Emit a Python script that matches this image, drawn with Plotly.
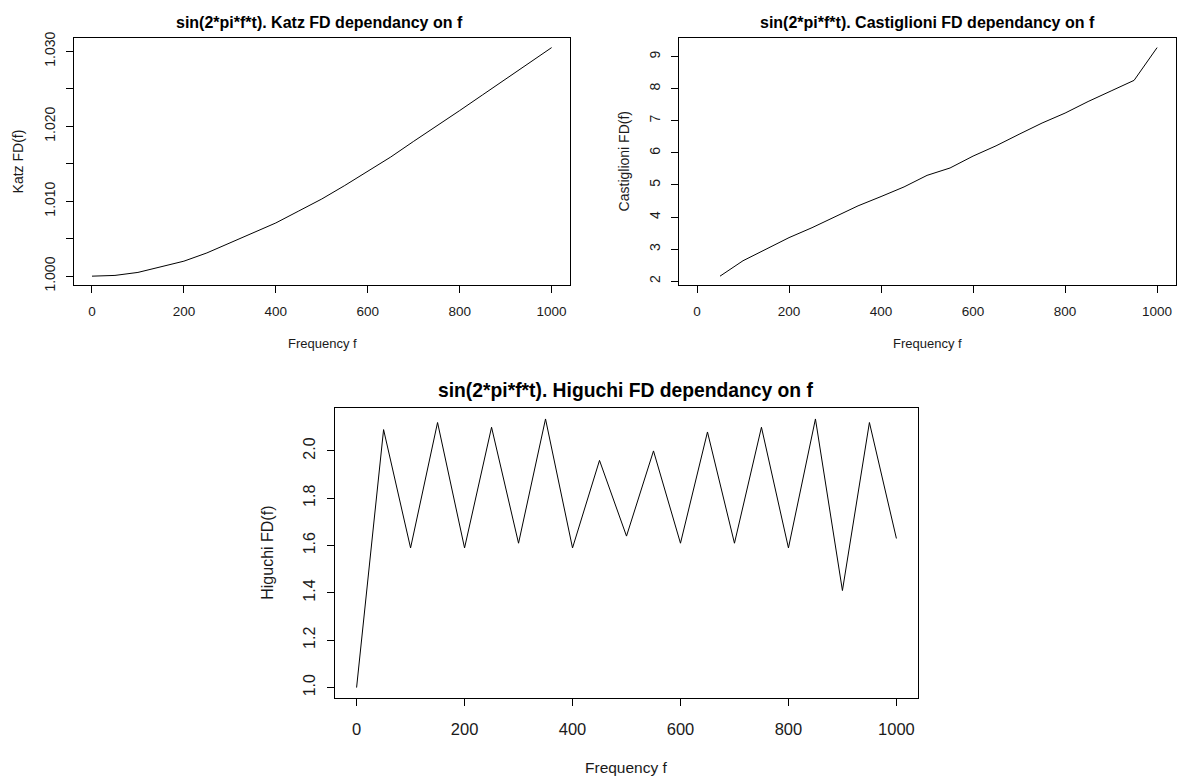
import plotly.graph_objects as go

# Frequencies sampled every 50 Hz
freq = [0, 50, 100, 150, 200, 250, 300, 350, 400, 450, 500,
        550, 600, 650, 700, 750, 800, 850, 900, 950, 1000]

# Fractal dimension estimates for sin(2*pi*f*t)
katz_fd = [1.0000, 1.0001, 1.0005, 1.0012, 1.0020, 1.0031, 1.0044, 1.0057,
           1.0071, 1.0087, 1.0103, 1.0121, 1.0140, 1.0159, 1.0180, 1.0200,
           1.0221, 1.0242, 1.0263, 1.0284, 1.0305]

cast_freq = freq[1:]
castiglioni_fd = [2.16, 2.64, 3.00, 3.36, 3.67, 4.02, 4.35, 4.64, 4.94, 5.30,
                  5.53, 5.90, 6.22, 6.58, 6.93, 7.24, 7.60, 7.93, 8.26, 9.28]

higuchi_fd = [1.00, 2.09, 1.59, 2.12, 1.59, 2.10, 1.61, 2.135, 1.59, 1.96, 1.64,
              2.00, 1.61, 2.08, 1.61, 2.10, 1.59, 2.135, 1.41, 2.12, 1.63]

x_ticks = [0, 200, 400, 600, 800, 1000]
katz_ticks = [1.000, 1.005, 1.010, 1.015, 1.020, 1.025, 1.030]
katz_labels = ["1.000", "", "1.010", "", "1.020", "", "1.030"]
cast_ticks = [2, 3, 4, 5, 6, 7, 8, 9]
hig_ticks = [1.0, 1.2, 1.4, 1.6, 1.8, 2.0]
hig_labels = ["1.0", "1.2", "1.4", "1.6", "1.8", "2.0"]

W, H = 1184, 782
FONT = "Liberation Sans, Arial, sans-serif"
INK = "#1a1a1a"


def padded(lo, hi, frac=0.04):
    span = hi - lo
    return [lo - frac * span, hi + frac * span]


def px_dom(a, b, total, flip=False):
    if flip:
        return [1 - b / total, 1 - a / total]
    return [a / total, b / total]


fig = go.Figure()
fig.add_trace(go.Scatter(x=freq, y=katz_fd, mode="lines",
                         line=dict(color="black", width=1), xaxis="x", yaxis="y"))
fig.add_trace(go.Scatter(x=cast_freq, y=castiglioni_fd, mode="lines",
                         line=dict(color="black", width=1), xaxis="x2", yaxis="y2"))
fig.add_trace(go.Scatter(x=freq, y=higuchi_fd, mode="lines",
                         line=dict(color="black", width=1), xaxis="x3", yaxis="y3"))

# font sizes: top row / bottom panel
top_xtick, top_ytick, top_xlab, top_ylab, top_title = 13.5, 14, 13, 14, 16
bot_xtick, bot_ytick, bot_xlab, bot_ylab, bot_title = 16.5, 16, 15.5, 16, 19.3

common_axis = dict(showline=True, mirror=True, linecolor="black", linewidth=1,
                   ticks="outside", tickcolor="black", ticklen=7, tickwidth=1,
                   showgrid=False, zeroline=False, fixedrange=True)

xr = padded(0, 1000)

fig.update_layout(
    width=W, height=H, margin=dict(l=0, r=0, t=0, b=0),
    paper_bgcolor="white", plot_bgcolor="white", showlegend=False,
    font=dict(family=FONT, color=INK),
    xaxis=dict(domain=px_dom(73.6, 570, W), anchor="y", range=xr,
               tickvals=x_ticks, ticklabelstandoff=7,
               tickfont=dict(size=top_xtick), **common_axis),
    yaxis=dict(domain=px_dom(32, 283, H, flip=True), anchor="x",
               range=padded(min(katz_fd), max(katz_fd)),
               tickvals=katz_ticks, ticktext=katz_labels, tickangle=-90,
               ticklabelstandoff=5, tickfont=dict(size=top_ytick), **common_axis),
    xaxis2=dict(domain=px_dom(678.6, 1175.5, W), anchor="y2", range=xr,
                tickvals=x_ticks, ticklabelstandoff=7,
                tickfont=dict(size=top_xtick), **common_axis),
    yaxis2=dict(domain=px_dom(32, 283, H, flip=True), anchor="x2",
                range=padded(min(castiglioni_fd), max(castiglioni_fd)),
                tickvals=cast_ticks, tickangle=-90, ticklabelstandoff=5,
                tickfont=dict(size=top_ytick), **common_axis),
    xaxis3=dict(domain=px_dom(335, 918, W), anchor="y3", range=xr,
                tickvals=x_ticks, ticklabelstandoff=9,
                tickfont=dict(size=bot_xtick), **common_axis),
    yaxis3=dict(domain=px_dom(408, 703, H, flip=True), anchor="x3",
                range=padded(min(higuchi_fd), max(higuchi_fd)),
                tickvals=hig_ticks, ticktext=hig_labels, tickangle=-90,
                ticklabelstandoff=6, tickfont=dict(size=bot_ytick), **common_axis),
)

annotations = [
    # titles
    dict(text="<b>sin(2*pi*f*t). Katz FD dependancy on f</b>", x=319 / W, y=1 - 16 / H,
         font=dict(size=top_title, color="black")),
    dict(text="<b>sin(2*pi*f*t). Castiglioni FD dependancy on f</b>", x=927 / W, y=1 - 16 / H,
         font=dict(size=top_title, color="black")),
    dict(text="<b>sin(2*pi*f*t). Higuchi FD dependancy on f</b>", x=626 / W, y=1 - 390 / H,
         font=dict(size=bot_title, color="black")),
    # x labels
    dict(text="Frequency f", x=322 / W, y=1 - 342 / H, font=dict(size=top_xlab)),
    dict(text="Frequency f", x=927 / W, y=1 - 342 / H, font=dict(size=top_xlab)),
    dict(text="Frequency f", x=626 / W, y=1 - 773 / H, font=dict(size=bot_xlab)),
    # y labels
    dict(text="Katz FD(f)", x=18 / W, y=1 - 157 / H, textangle=-90, font=dict(size=top_ylab)),
    dict(text="Castiglioni FD(f)", x=624 / W, y=1 - 157 / H, textangle=-90, font=dict(size=top_ylab)),
    dict(text="Higuchi FD(f)", x=268 / W, y=1 - 555 / H, textangle=-90, font=dict(size=bot_ylab)),
]
for a in annotations:
    a.update(xref="paper", yref="paper", showarrow=False, xanchor="center", yanchor="middle")
    a["font"].setdefault("color", INK)
    a["font"]["family"] = FONT
fig.update_layout(annotations=annotations)

fig.write_html("out.html")
